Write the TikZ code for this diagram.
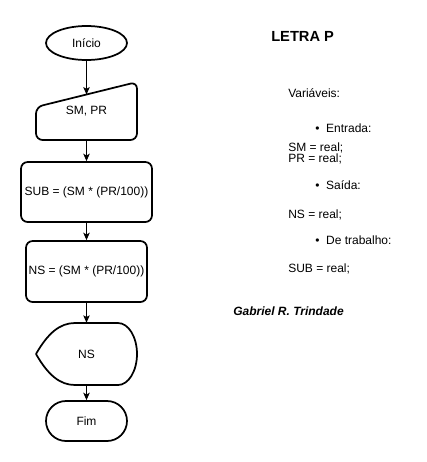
\documentclass[tikz,border=0pt]{standalone}
\usepackage{fontspec}
\setmainfont{Liberation Sans}
\usepackage{tikz}
\usetikzlibrary{arrows.meta,shapes.geometric}

\begin{document}
\begin{tikzpicture}[->,>={Stealth[length=5.5pt,width=4.8pt,inset=1.2pt]},x=0.75pt,y=-0.75pt,font=\fontsize{9}{11}\selectfont]
    \tikzstyle{term}=[draw=black, line width=1.3pt, ellipse, minimum width=60.75pt, minimum height=25.5pt, text=black]
    \tikzstyle{bloco}=[draw=black, line width=1.3pt, rectangle, rounded corners=5pt, inner sep=1pt, text=black]
    \tikzstyle{forma}=[draw=none, inner sep=1pt, text=black]
    \tikzstyle{txt}=[anchor=base west, inner sep=0pt, text=black]
    \tikzstyle{seta}=[line width=0.75pt]

    \useasboundingbox (0,0) rectangle (427,462);

    \node[term] (inicio) at (86.5,43) {Início};
    \node[forma, minimum width=76.5pt, minimum height=43.5pt] (entrada) at (86.5,111) {SM, PR};
    \coordinate (entradatopo) at (86.5,94.5);
    \node[bloco, minimum width=98.25pt, minimum height=45pt] (sub) at (86.5,192) {SUB = (SM * (PR/100))};
    \node[bloco, minimum width=90.75pt, minimum height=45.75pt] (ns) at (86.5,271.5) {NS = (SM * (PR/100))};
    \node[forma, minimum width=75.75pt, minimum height=46.5pt] (saida) at (86.5,354) {NS};
    \node[bloco, rounded corners=15pt, minimum width=60.75pt, minimum height=30pt] (fim) at (86.5,421) {Fim};

    \draw[-, line width=1.3pt, rounded corners=5pt] (36,107) -- (137,82) -- (137,140) -- (36,140) -- cycle;
    \draw[-, line width=1.3pt, line join=round] (36,354) .. controls (48,333) and (60,323) .. (75,323) -- (118,323)
        .. controls (128.5,323) and (137,337) .. (137,354) .. controls (137,371) and (128.5,385) .. (118,385)
        -- (75,385) .. controls (60,385) and (48,375) .. (36,354) -- cycle;

    \path[seta]
     (inicio) edge (entradatopo)
     (entrada) edge (sub)
     (sub) edge (ns)
     (ns) edge (saida)
     (saida) edge (fim)
     ;

    \node[txt, font=\fontsize{11}{13}\selectfont\bfseries] (titulo) at (271,41) {LETRA P};
    \node[txt] (variaveis) at (288,97) {Variáveis:};
    \node[txt] (entradalbl) at (315,132) {\textbullet\hspace{5pt}Entrada:};
    \node[txt] (smtipo) at (288,151) {SM = real;};
    \node[txt] (prtipo) at (288,162) {PR = real;};
    \node[txt] (saidalbl) at (315,189) {\textbullet\hspace{5pt}Saída:};
    \node[txt] (nstipo) at (288,218) {NS = real;};
    \node[txt] (trabalho) at (315,244) {\textbullet\hspace{5pt}De trabalho:};
    \node[txt] (subtipo) at (288,272) {SUB = real;};
    \node[txt, font=\fontsize{9}{11}\selectfont\bfseries\itshape] (autor) at (233,315) {Gabriel R. Trindade};
\end{tikzpicture}
\end{document}
